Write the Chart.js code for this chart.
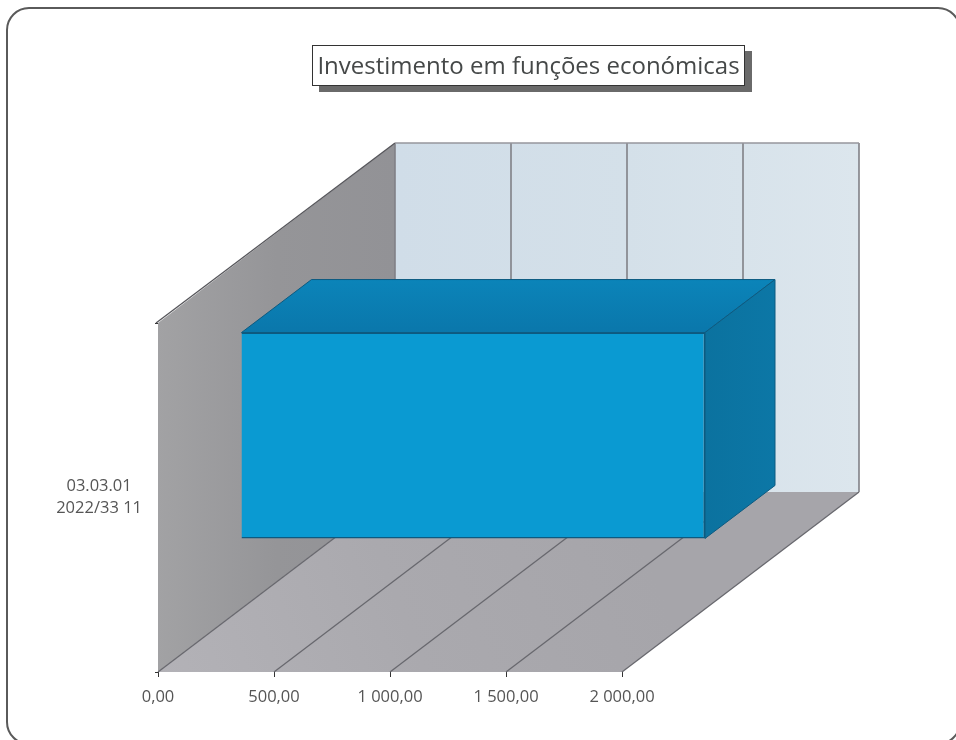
<!DOCTYPE html>
<html>
<head>
<meta charset="utf-8">
<title>Investimento em funções económicas</title>
<script src="https://cdn.jsdelivr.net/npm/chart.js@4/dist/chart.umd.min.js"></script>
<style>
  html, body { margin: 0; padding: 0; background: #fff; }
  #wrap { position: relative; width: 956px; height: 740px; overflow: hidden; }
  #frame {
    position: absolute; left: 6px; top: 7px; width: 955px; height: 738px;
    border: 2px solid #5a5a5a; border-radius: 23px; box-sizing: border-box;
  }
  #chartTitle {
    position: absolute; left: 312px; top: 45px; width: 433px; height: 41px;
    box-sizing: border-box; border: 1px solid #333; background: #fff;
    box-shadow: 7px 6px 0 #6a6a6a;
    font: 500 24px "Open Sans", sans-serif; color: #454848;
    line-height: 38px; text-align: center; white-space: nowrap;
  }
  canvas { position: absolute; left: 0; top: 0; }
</style>
</head>
<body>
<div id="wrap">
  <div id="frame"></div>
  <canvas id="chart" width="956" height="740"></canvas>
  <div id="chartTitle">Investimento em funções económicas</div>
</div>
<script>
const categories = [['03.03.01', '2022/33 11']];
const values = [2000];
const xMax = 2000;
const xStep = 500;

// how far the back wall and the bar sit behind the front plane, in px
const wallDepth = { x: 237, y: -180 };
const barFront = { x: 83, y: -62 };
const barDepth = { x: 70, y: -53 };

function poly(ctx, pts, fill, stroke, lineWidth) {
  ctx.beginPath();
  pts.forEach((p, i) => i ? ctx.lineTo(p[0], p[1]) : ctx.moveTo(p[0], p[1]));
  ctx.closePath();
  ctx.fillStyle = fill;
  ctx.fill();
  if (stroke) {
    ctx.strokeStyle = stroke;
    ctx.lineWidth = lineWidth || 1;
    ctx.stroke();
  }
}

function linear(ctx, x0, y0, x1, y1, stops) {
  const g = ctx.createLinearGradient(x0, y0, x1, y1);
  stops.forEach((c, i) => g.addColorStop(i / (stops.length - 1), c));
  return g;
}

const walls3d = {
  id: 'walls3d',
  beforeDatasetsDraw(chart) {
    const { ctx, chartArea: a, scales } = chart;
    const dx = wallDepth.x, dy = wallDepth.y;
    ctx.save();

    // back wall
    poly(ctx, [[a.left + dx, a.top + dy], [a.right + dx, a.top + dy], [a.right + dx, a.bottom + dy], [a.left + dx, a.bottom + dy]],
      linear(ctx, a.left + dx, 0, a.right + dx, 0, ['#d0dde8', '#d4e0e9', '#dce6ed']));

    // left wall
    poly(ctx, [[a.left, a.top], [a.left + dx, a.top + dy], [a.left + dx, a.bottom + dy], [a.left, a.bottom]],
      linear(ctx, a.left, 0, a.left + dx, 0, ['#a2a2a4', '#959598', '#929296']));

    // floor
    poly(ctx, [[a.left, a.bottom], [a.right, a.bottom], [a.right + dx, a.bottom + dy], [a.left + dx, a.bottom + dy]],
      linear(ctx, a.left, a.bottom, a.right, a.bottom + dy, ['#b3b2b7', '#aaa9ae', '#a6a5aa']));

    // grid lines run along the floor and up the back wall
    scales.x.ticks.forEach(t => {
      const x = scales.x.getPixelForValue(t.value);
      ctx.beginPath();
      ctx.moveTo(x, a.bottom);
      ctx.lineTo(x + dx, a.bottom + dy);
      ctx.strokeStyle = '#68686e';
      ctx.lineWidth = 1.3;
      ctx.stroke();
      ctx.beginPath();
      ctx.moveTo(x + dx, a.bottom + dy);
      ctx.lineTo(x + dx, a.top + dy);
      ctx.strokeStyle = '#808086';
      ctx.lineWidth = 1.6;
      ctx.stroke();
    });

    // top edges of the walls
    ctx.beginPath();
    ctx.moveTo(a.left - 2, a.top);
    ctx.lineTo(a.left + dx, a.top + dy);
    ctx.strokeStyle = '#55555a';
    ctx.lineWidth = 1.3;
    ctx.stroke();
    ctx.beginPath();
    ctx.moveTo(a.left + dx, a.top + dy);
    ctx.lineTo(a.right + dx, a.top + dy);
    ctx.strokeStyle = '#96969c';
    ctx.lineWidth = 1.5;
    ctx.stroke();
    ctx.restore();
  },
  beforeDatasetDraw(chart) {
    const ctx = chart.ctx;
    const bar = chart.getDatasetMeta(0).data[0];
    const l = bar.base + barFront.x, r = bar.x + barFront.x;
    const t = bar.y - bar.height / 2 + barFront.y, b = bar.y + bar.height / 2 + barFront.y;
    const ex = barDepth.x, ey = barDepth.y;
    const edge = '#0d5a80';

    ctx.save();
    poly(ctx, [[l, t], [r, t], [r + ex, t + ey], [l + ex, t + ey]],
      linear(ctx, 0, t + ey, 0, t, ['#0b84b9', '#0a77ab']), edge);
    poly(ctx, [[r, t], [r + ex, t + ey], [r + ex, b + ey], [r, b]],
      linear(ctx, r, 0, r + ex, 0, ['#0b729f', '#0c77a6']), edge);
    // front face goes through the library, shifted back onto its plane
    ctx.translate(barFront.x, barFront.y);
  },
  afterDatasetDraw(chart) {
    chart.ctx.restore();
  }
};

new Chart(document.getElementById('chart'), {
  type: 'bar',
  data: {
    labels: categories,
    datasets: [{
      data: values,
      backgroundColor: '#0a9ad2',
      borderColor: '#0d5a80',
      borderWidth: 1.5,
      barPercentage: 0.59,
      categoryPercentage: 1,
      clip: false
    }]
  },
  plugins: [walls3d],
  options: {
    indexAxis: 'y',
    responsive: false,
    animation: false,
    layout: { padding: { top: 323, right: 334, bottom: 28, left: 0 } },
    plugins: { legend: { display: false }, tooltip: { enabled: false } },
    scales: {
      x: {
        min: 0,
        max: xMax,
        afterFit(scale) { scale.height = 40; },
        afterBuildTicks(scale) {
          scale.ticks = [];
          for (let v = 0; v <= xMax; v += xStep) scale.ticks.push({ value: v });
        },
        border: { display: false },
        grid: { drawOnChartArea: false, color: '#333', tickLength: 5 },
        ticks: {
          maxRotation: 0,
          padding: 10,
          color: '#555',
          font: { family: '"Open Sans"', size: 16.5 },
          callback: v => v.toLocaleString('pt-PT', { minimumFractionDigits: 2, useGrouping: 'always' }).replace(/[\u00a0\u202f.]/g, ' ')
        }
      },
      y: {
        afterFit(scale) { scale.width = 158; },
        border: { display: false },
        grid: { drawOnChartArea: false, color: '#333', tickLength: 3 },
        ticks: {
          padding: 13,
          crossAlign: 'center',
          color: '#555',
          font: { family: '"Open Sans"', size: 16.5, lineHeight: 1.35 }
        }
      }
    }
  }
});
</script>
</body>
</html>
